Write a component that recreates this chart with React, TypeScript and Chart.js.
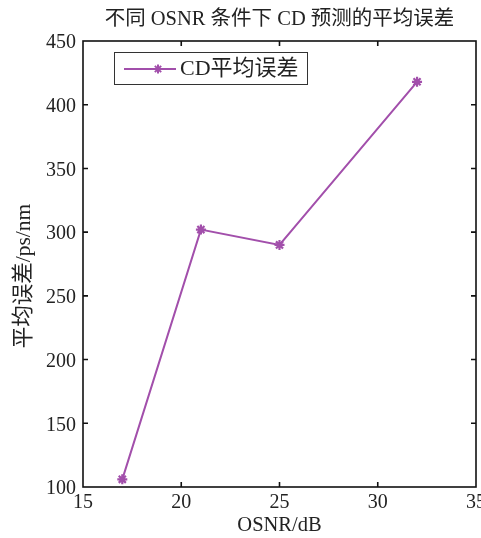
import React, { useEffect, useRef } from "react";
import { Chart, registerables } from "chart.js";

Chart.register(...registerables);

const osnr = [17, 21, 25, 32];
const meanError = [106, 302, 290, 418];
const seriesLabel = "CD平均误差";
const chartTitle = "不同 OSNR 条件下 CD 预测的平均误差";
const xTitle = "OSNR/dB";
const yTitle = "平均误差/ps/nm";

const PURPLE = "#a24fab";
const SERIF = "'Liberation Serif', 'Noto Sans CJK SC', serif";
const CJK = "'Liberation Serif', 'Noto Sans CJK SC', serif";

const framePlugin = {
  id: "frameAndExtras",
  afterDraw(chart: any) {
    const { ctx, chartArea } = chart;
    const { left, right, top, bottom } = chartArea;
    const xs = chart.scales.x;
    const ys = chart.scales.y;
    ctx.save();
    // frame
    ctx.strokeStyle = "#111";
    ctx.lineWidth = 1.6;
    ctx.strokeRect(left, top, right - left, bottom - top);
    // inward ticks
    const tl = 5;
    ctx.beginPath();
    xs.ticks.forEach((t: any) => {
      const px = xs.getPixelForValue(t.value);
      if (Math.abs(px - left) < 2 || Math.abs(px - right) < 2) return;
      ctx.moveTo(px, bottom);
      ctx.lineTo(px, bottom - tl);
      ctx.moveTo(px, top);
      ctx.lineTo(px, top + tl);
    });
    ys.ticks.forEach((t: any) => {
      const py = ys.getPixelForValue(t.value);
      if (Math.abs(py - top) < 2 || Math.abs(py - bottom) < 2) return;
      ctx.moveTo(left, py);
      ctx.lineTo(left + tl, py);
      ctx.moveTo(right, py);
      ctx.lineTo(right - tl, py);
    });
    ctx.stroke();

    // title
    ctx.fillStyle = "#222";
    ctx.textAlign = "center";
    ctx.textBaseline = "middle";
    ctx.font = `20.5px ${CJK}`;
    ctx.fillText(chartTitle, (left + right) / 2, 20);

    // x title
    ctx.font = `20.5px ${CJK}`;
    ctx.fillText(xTitle, (left + right) / 2, 526);

    // y title
    ctx.save();
    ctx.font = `21.5px ${CJK}`;
    ctx.translate(24, 276);
    ctx.rotate(-Math.PI / 2);
    ctx.fillText(yTitle, 0, 0);
    ctx.restore();

    // legend
    const bx = 114, by = 52, bw = 193, bh = 32;
    ctx.fillStyle = "#fff";
    ctx.fillRect(bx, by, bw, bh);
    ctx.strokeStyle = "#333";
    ctx.lineWidth = 1;
    ctx.strokeRect(bx + 0.5, by + 0.5, bw, bh);
    const ly = by + bh / 2 + 1;
    ctx.strokeStyle = PURPLE;
    ctx.lineWidth = 2;
    ctx.beginPath();
    ctx.moveTo(124, ly);
    ctx.lineTo(176, ly);
    ctx.stroke();
    // marker
    const mx = 158, r = 4.5;
    ctx.lineWidth = 2;
    ctx.beginPath();
    ctx.moveTo(mx - r, ly);
    ctx.lineTo(mx + r, ly);
    ctx.moveTo(mx, ly - r);
    ctx.lineTo(mx, ly + r);
    const d = r * 0.7;
    ctx.moveTo(mx - d, ly - d);
    ctx.lineTo(mx + d, ly + d);
    ctx.moveTo(mx - d, ly + d);
    ctx.lineTo(mx + d, ly - d);
    ctx.stroke();
    ctx.fillStyle = "#222";
    ctx.textAlign = "left";
    ctx.font = `22px ${CJK}`;
    ctx.fillText(seriesLabel, 180, ly);
    ctx.restore();
  },
};

export default function App() {
  const ref = useRef<HTMLCanvasElement>(null);
  useEffect(() => {
    document.body.style.margin = "0";
    const chart = new Chart(ref.current as HTMLCanvasElement, {
      type: "line",
      data: {
        datasets: [
          {
            label: seriesLabel,
            data: osnr.map((x, i) => ({ x, y: meanError[i] })),
            borderColor: PURPLE,
            backgroundColor: PURPLE,
            borderWidth: 2,
            pointStyle: "star",
            pointRadius: 5,
            pointBorderWidth: 2.2,
            pointBorderColor: PURPLE,
            tension: 0,
          },
        ],
      },
      options: {
        animation: false,
        responsive: true,
        maintainAspectRatio: false,
        layout: { autoPadding: false, padding: { top: 41, right: 5, bottom: 0, left: 0 } },
        plugins: {
          legend: { display: false },
          title: { display: false },
          tooltip: { enabled: false },
        },
        scales: {
          x: {
            type: "linear",
            min: 15,
            max: 35,
            ticks: {
              stepSize: 5,
              color: "#222",
              font: { family: SERIF, size: 20 },
              padding: 4,
            },
            grid: { display: false, drawTicks: false },
            border: { display: false },
            afterFit(scale: any) {
              scale.height = 51;
              scale.paddingLeft = 0;
              scale.paddingRight = 0;
            },
          },
          y: {
            type: "linear",
            min: 100,
            max: 450,
            ticks: {
              stepSize: 50,
              color: "#222",
              font: { family: SERIF, size: 20 },
              padding: 7,
              labelOffset: 2,
            },
            grid: { display: false, drawTicks: false },
            border: { display: false },
            afterFit(scale: any) {
              scale.width = 83;
              scale.paddingTop = 0;
              scale.paddingBottom = 0;
            },
          },
        },
      },
      plugins: [framePlugin],
    });
    return () => chart.destroy();
  }, []);
  return (
    <div style={{ width: 481, height: 538, position: "relative" }}>
      <canvas ref={ref} />
    </div>
  );
}
